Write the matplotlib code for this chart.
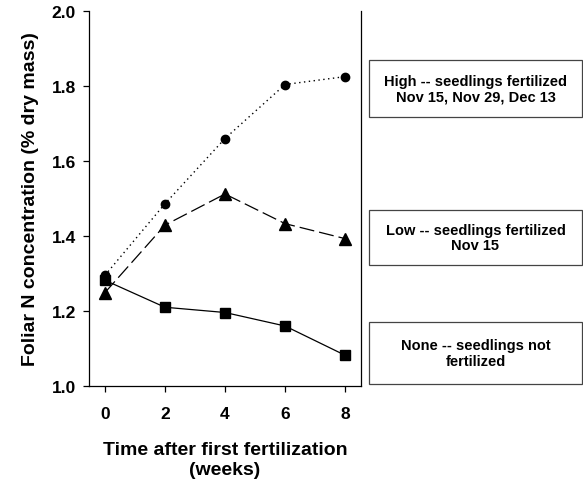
import matplotlib.pyplot as plt

plt.rcParams['font.family'] = 'Liberation Sans'
plt.rcParams['font.weight'] = 'bold'

weeks = [0, 2, 4, 6, 8]
high = [1.295, 1.486, 1.660, 1.804, 1.825]
low = [1.249, 1.429, 1.512, 1.433, 1.393]
none = [1.282, 1.210, 1.196, 1.160, 1.082]

labels = ['High -- seedlings fertilized\nNov 15, Nov 29, Dec 13',
          'Low -- seedlings fertilized\nNov 15',
          'None -- seedlings not\nfertilized']

fig = plt.figure(figsize=(5.83, 4.81), dpi=100)
ax = fig.add_axes([89/583, 1 - 387/481, 272/583, 375/481])

ax.plot(weeks, high, color='black', linestyle=(0, (1, 2.5)), linewidth=1,
        marker='o', markersize=6)
ax.plot(weeks, low, color='black', linestyle=(0, (12, 4)), linewidth=0.9,
        marker='^', markersize=8)
ax.plot(weeks, none, color='black', linestyle='-', linewidth=0.9,
        marker='s', markersize=7)

ax.set_xlim(-0.53, 8.53)
ax.set_ylim(1.0, 2.0)
ax.set_xticks(weeks)
ax.set_yticks([1.0, 1.2, 1.4, 1.6, 1.8, 2.0])
ax.set_yticklabels(['1.0', '1.2', '1.4', '1.6', '1.8', '2.0'])
ax.tick_params(direction='out', length=4.5, width=0.9, labelsize=12.5)
ax.tick_params(axis='x', pad=10)
ax.tick_params(axis='y', pad=5)
for lab in ax.get_xticklabels() + ax.get_yticklabels():
    lab.set_fontweight('bold')
ax.spines['top'].set_visible(False)
for s in ['left', 'bottom', 'right']:
    ax.spines[s].set_linewidth(0.9)

ax.set_xlabel('Time after first fertilization\n(weeks)', fontsize=14,
              fontweight='bold', labelpad=14, linespacing=1.25)
ax.set_ylabel('Foliar N concentration (% dry mass)', fontsize=14,
              fontweight='bold', labelpad=9)

# legend boxes
boxes = [(61, 118), (211, 266), (323, 385)]
for (top, bot), txt in zip(boxes, labels):
    x0, x1 = 369 / 583, 582 / 583
    y0, y1 = 1 - bot / 481, 1 - top / 481
    fig.patches.append(plt.Rectangle((x0, y0), x1 - x0, y1 - y0,
                                     transform=fig.transFigure, fill=False,
                                     edgecolor='#444444', linewidth=0.9))
    fig.text((x0 + x1) / 2, (y0 + y1) / 2, txt, ha='center', va='center',
             fontsize=10.5, fontweight='bold', linespacing=1.15)

fig.savefig('out.png', dpi=100)
